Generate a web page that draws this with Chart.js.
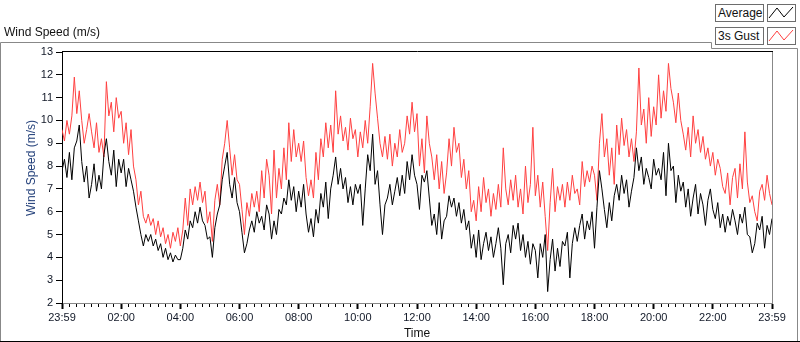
<!DOCTYPE html>
<html>
<head>
<meta charset="utf-8">
<title>Wind Speed</title>
<script src="https://cdn.jsdelivr.net/npm/chart.js@4.4.1/dist/chart.umd.min.js"></script>
<style>
  body { margin: 0; background: #fff; }
  #wrap { position: relative; width: 800px; height: 342px; overflow: hidden; font-family: "Liberation Sans", Arial, sans-serif; }
  #windChart { position: absolute; left: 0; top: 0; }
  .heading { position: absolute; left: 4px; top: 25px; font-size: 12px; line-height: 14px; color: #111; white-space: nowrap; }
  .ytitle { position: absolute; left: 31px; top: 168px; transform: translate(-50%, -50%) rotate(-90deg); font-size: 12px; line-height: 14px; color: #23407a; white-space: nowrap; }
  .leg-text { position: absolute; left: 715px; width: 49px; height: 18px; box-sizing: border-box; border: 1px solid #6d6d6d; background: #fff; font-size: 12px; line-height: 16px; padding-left: 2px; color: #111; white-space: nowrap; }
  .leg-swatch { position: absolute; left: 767px; width: 29px; height: 18px; box-sizing: border-box; border: 1px solid #6d6d6d; background: #fff; }
  .leg-swatch svg { position: absolute; left: 0; top: 0; }
</style>
</head>
<body>
<div id="wrap">
  <canvas id="windChart" width="800" height="342"></canvas>
  <div class="heading">Wind Speed (m/s)</div>
  <div class="ytitle">Wind Speed (m/s)</div>
  <div id="legend"></div>
</div>
<script>
// one sample every 5 minutes, 23:59 -> 23:59
var STEP_MIN = 5;
var seriesNames = ['Average', '3s Gust'];
var seriesColors = ['#000000', '#ff4040'];
var timeLabels = ['23:59', '02:00', '04:00', '06:00', '08:00', '10:00', '12:00',
                  '14:00', '16:00', '18:00', '20:00', '22:00', '23:59'];

var average = [
  7.8, 8.3, 7.5, 8.6, 7.4, 8.8, 9.1, 9.8, 8.2, 7.3, 8.0, 6.6,
  7.2, 8.1, 6.9, 7.6, 7.0, 8.5, 9.2, 8.2, 7.6, 8.7, 7.1, 8.3,
  7.7, 8.3, 7.1, 7.9, 7.4, 6.9, 6.2, 5.6, 5.0, 4.5, 5.0, 4.7,
  5.0, 4.5, 4.8, 4.3, 4.6, 4.0, 4.4, 3.9, 4.2, 3.8, 4.1, 3.9,
  3.9, 4.4, 5.2, 4.8, 5.6, 5.3, 6.0, 5.5, 6.2, 5.6, 5.4, 4.8,
  4.9, 4.0, 5.3, 5.9, 6.3, 7.4, 8.0, 8.6, 7.2, 6.6, 7.5, 6.4,
  6.0, 5.1, 4.2, 4.6, 5.2, 5.6, 5.1, 6.0, 5.5, 5.8, 5.2, 6.3,
  5.9, 4.8, 5.6, 5.0, 6.1, 5.9, 6.6, 6.3, 7.4, 6.5, 7.1, 6.0,
  6.9, 6.2, 7.2, 5.9, 5.1, 5.7, 4.9, 6.1, 5.5, 6.8, 6.2, 7.3,
  5.7, 7.0, 7.6, 8.4, 7.2, 7.9, 7.0, 7.5, 6.4, 7.1, 6.3, 7.2,
  6.8, 7.2, 5.4, 7.0, 8.5, 7.8, 9.4, 7.2, 7.8, 6.3, 5.0, 6.3,
  6.6, 7.2, 6.3, 6.9, 7.5, 6.7, 7.6, 6.8, 8.2, 7.4, 8.5, 7.6,
  7.2, 6.1, 7.6, 7.3, 7.8, 6.6, 5.4, 5.9, 5.0, 6.4, 4.8, 5.6,
  5.8, 6.7, 6.2, 6.6, 5.8, 6.4, 5.5, 6.1, 5.2, 5.6, 4.4, 5.0,
  4.0, 5.2, 3.9, 4.6, 5.1, 4.3, 4.9, 4.0, 4.6, 5.3, 4.4, 2.8,
  4.6, 5.0, 4.2, 5.4, 4.8, 5.5, 4.3, 5.0, 4.0, 4.7, 3.7, 4.6,
  4.3, 3.1, 4.6, 4.0, 5.0, 2.5, 3.9, 4.8, 3.4, 4.4, 3.6, 4.7,
  4.5, 5.1, 3.1, 4.6, 5.3, 4.7, 5.4, 5.9, 4.8, 5.6, 5.2, 6.0,
  4.4, 6.2, 7.8, 7.0, 6.1, 5.3, 6.4, 5.6, 6.7, 7.2, 6.5, 7.6,
  6.8, 7.4, 6.2, 6.9, 7.5, 8.8, 7.8, 8.4, 7.2, 7.9, 7.5, 7.0,
  8.3, 7.6, 7.9, 7.4, 8.6, 6.7, 9.0, 7.8, 8.0, 6.4, 7.6, 6.9,
  7.3, 6.2, 7.0, 5.8, 6.6, 7.2, 5.9, 6.8, 6.3, 5.4, 6.5, 7.0,
  6.1, 5.7, 6.4, 5.3, 5.9, 5.1, 5.8, 5.4, 6.1, 5.6, 5.0, 5.9,
  5.5, 6.2, 5.0, 4.9, 4.2, 4.6, 5.5, 5.2, 5.8, 4.4, 5.4, 5.0, 5.7
];

var gust = [
  9.6, 9.1, 10.0, 9.4, 10.2, 11.9, 10.3, 11.3, 10.0, 9.0, 9.6, 10.3,
  9.5, 8.8, 9.9, 8.6, 9.2, 8.4, 11.7, 10.2, 10.8, 9.5, 11.0, 10.1,
  10.4, 9.0, 9.9, 8.5, 9.6, 8.0, 7.4, 6.3, 6.9, 5.8, 5.5, 5.9,
  5.4, 5.7, 5.0, 5.6, 4.9, 5.3, 4.6, 5.0, 4.4, 5.1, 4.7, 5.3,
  4.5, 5.2, 6.6, 5.4, 7.0, 6.3, 7.1, 6.5, 7.3, 6.4, 6.9, 5.5,
  6.0, 4.7, 6.5, 7.2, 6.3, 8.3, 9.0, 10.0, 8.8, 7.6, 8.5, 7.4,
  7.2, 6.1, 5.0, 6.4, 5.8, 6.8, 6.2, 6.9, 6.0, 7.8, 6.6, 8.3,
  7.6, 5.9, 8.7, 6.6, 7.9, 7.0, 8.8, 7.4, 9.9, 8.2, 9.6, 8.4,
  9.0, 8.2, 9.1, 7.5, 6.7, 7.4, 6.6, 8.6, 7.4, 9.2, 8.4, 9.9,
  8.8, 9.8, 8.6, 11.3, 9.4, 10.2, 9.1, 9.7, 8.7, 10.1, 9.2, 9.6,
  8.4, 9.5, 8.8, 10.0, 9.0, 10.6, 12.5, 11.2, 10.1, 9.0, 8.4, 9.3,
  8.3, 9.4, 8.0, 9.0, 8.4, 9.6, 8.6, 9.0, 10.2, 9.4, 10.8, 9.5,
  10.3, 8.0, 9.2, 7.7, 10.2, 9.0, 8.4, 7.4, 8.5, 7.0, 8.2, 6.8,
  7.7, 9.2, 8.0, 9.7, 8.6, 9.0, 7.5, 8.3, 7.0, 7.8, 6.0, 6.5,
  5.6, 7.1, 6.0, 7.5, 6.4, 7.0, 5.8, 6.8, 6.1, 7.2, 6.2, 8.8,
  7.0, 6.3, 7.4, 6.5, 7.6, 6.2, 7.0, 5.9, 8.0, 6.4, 7.2, 9.7,
  6.7, 7.6, 6.2, 7.3, 5.8, 4.3, 6.4, 7.9, 6.0, 7.1, 6.5, 7.2,
  6.2, 7.3, 6.5, 7.6, 6.8, 7.0, 6.3, 8.2, 7.1, 7.8, 7.3, 8.0,
  7.6, 6.5, 9.0, 10.3, 8.4, 9.2, 7.6, 8.8, 7.2, 9.8, 8.5, 10.1,
  8.9, 9.6, 8.4, 9.2, 8.2, 9.5, 12.3, 9.8, 10.5, 9.0, 11.0, 9.3,
  10.6, 9.8, 12.0, 10.1, 11.3, 10.4, 12.5, 11.4, 10.8, 9.9, 11.2, 10.0,
  9.4, 8.7, 9.7, 8.4, 10.2, 9.0, 9.6, 8.6, 9.3, 8.3, 8.8, 8.0,
  8.6, 7.6, 8.3, 7.9, 7.1, 6.8, 7.7, 6.3, 7.5, 7.9, 6.6, 8.1,
  7.0, 9.5, 7.3, 6.4, 6.7, 6.0, 5.6, 6.9, 7.2, 6.5, 7.6, 6.8, 6.3
];

var FONT = "'Liberation Sans', Arial, sans-serif";

function toPoints(values) {
  return values.map(function (v, i) { return { x: i * STEP_MIN, y: v }; });
}

// legend boxes, LabVIEW style
var legend = document.getElementById('legend');
seriesNames.forEach(function (name, i) {
  var top = 4 + i * 23;
  var t = document.createElement('div');
  t.className = 'leg-text';
  t.style.top = top + 'px';
  t.textContent = name;
  legend.appendChild(t);
  var s = document.createElement('div');
  s.className = 'leg-swatch';
  s.style.top = top + 'px';
  s.innerHTML = '<svg width="27" height="16"><polyline points="1,13 9,3 16,12 25,2" fill="none" stroke="' +
    seriesColors[i] + '" stroke-width="1"/></svg>';
  legend.appendChild(s);
});

var framePlugin = {
  id: 'frame',
  afterDraw: function (chart) {
    var ctx = chart.ctx, a = chart.chartArea;
    ctx.save();
    ctx.lineWidth = 1;
    ctx.strokeStyle = '#000';
    ctx.beginPath(); ctx.moveTo(a.left, a.top - 0.5); ctx.lineTo(a.right + 1, a.top - 0.5); ctx.stroke();
    ctx.strokeStyle = '#888';
    ctx.beginPath(); ctx.moveTo(a.right + 0.5, a.top); ctx.lineTo(a.right + 0.5, a.bottom + 1); ctx.stroke();
    ctx.beginPath();
    ctx.moveTo(0.5, 342); ctx.lineTo(0.5, 42.5); ctx.lineTo(711.5, 42.5);
    ctx.lineTo(711.5, 48.5); ctx.lineTo(797.5, 48.5); ctx.lineTo(797.5, 342);
    ctx.stroke();
    ctx.strokeStyle = '#000';
    ctx.beginPath(); ctx.moveTo(0, 341.5); ctx.lineTo(800, 341.5); ctx.stroke();
    ctx.restore();
  }
};

var canvas = document.getElementById('windChart');
var windChart = new Chart(canvas, {
  type: 'line',
  data: {
    datasets: [
      { label: seriesNames[0], data: toPoints(average), borderColor: seriesColors[0], borderWidth: 1, pointRadius: 0, tension: 0, fill: false },
      { label: seriesNames[1], data: toPoints(gust), borderColor: seriesColors[1], borderWidth: 1, pointRadius: 0, tension: 0, fill: false }
    ]
  },
  options: {
    responsive: false,
    animation: false,
    events: [],
    layout: { padding: { left: 0, top: 52, right: 28, bottom: 0 } },
    plugins: { legend: { display: false }, tooltip: { enabled: false }, title: { display: false } },
    scales: {
      x: {
        type: 'linear',
        min: 0,
        max: 1440,
        afterFit: function (s) { s.height = 39; },
        border: { color: '#888', width: 1 },
        grid: {
          drawOnChartArea: false,
          drawTicks: true,
          tickLength: 6,
          tickColor: '#000',
          tickWidth: function (c) { return c.tick && c.tick.value % 120 === 0 ? 2 : 1; },
          tickBorderDash: function (c) { return c.tick && c.tick.value % 120 === 0 ? [] : [3, 10]; }
        },
        ticks: {
          stepSize: 15,
          autoSkip: false,
          maxRotation: 0,
          padding: 2,
          color: '#111827',
          font: { size: 11, family: FONT },
          callback: function (v) { return v % 120 === 0 ? timeLabels[v / 120] : ''; }
        },
        title: { display: true, text: 'Time', color: '#111', font: { size: 12, family: FONT }, padding: { top: 0, bottom: 1 } }
      },
      y: {
        min: 2,
        max: 13,
        afterFit: function (s) { s.width = 62; },
        border: { color: '#000', width: 1 },
        grid: { drawOnChartArea: false, drawTicks: true, tickLength: 6, tickColor: '#000' },
        ticks: { stepSize: 1, padding: 3, color: '#111827', font: { size: 11, family: FONT } }
      }
    }
  },
  plugins: [framePlugin]
});
</script>
</body>
</html>
